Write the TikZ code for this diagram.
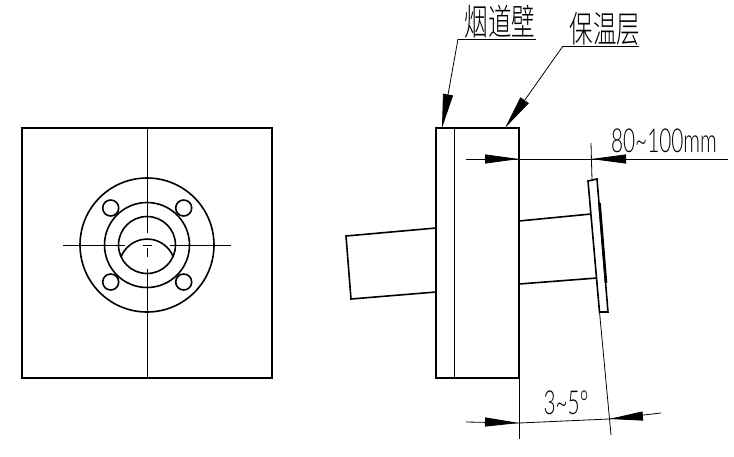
\documentclass[tikz,border=0pt]{standalone}
\usepackage{fontspec}
\setmainfont{Lato Light}
\newfontfamily\cjk{Noto Sans CJK SC Light}
\usetikzlibrary{arrows.meta}

\begin{document}
\begin{tikzpicture}[x=1pt, y=-1pt]
    \tikzstyle{thick line} = [line width=1.6pt]
    \tikzstyle{thin line} = [line width=0.8pt]
    \tikzstyle{label cn} = [font=\cjk\fontsize{25}{25}\selectfont, xscale=0.94, yscale=1.45, inner sep=0pt]
    \tikzstyle{label dim} = [font=\fontsize{33}{33}\selectfont, xscale=0.63, yscale=1.0, inner sep=0pt]
    \tikzstyle{leader} = [thin line, -{Triangle[length=34pt, width=10pt]}]
    \useasboundingbox (0,0) rectangle (734,456);

    % front view
    \draw [thick line] (22,128) rectangle (272,378);
    \draw [thin line] (147,128) -- (147,233);
    \draw [thin line] (147,248) -- (147,257);
    \draw [thin line] (147,269) -- (147,378);
    \draw [thin line] (63,245) -- (125,245);
    \draw [thin line] (170,245) -- (231,245);
    \draw [thin line] (143,245) -- (152,245);
    \draw [thick line] (147,245) circle (67);
    \draw [thick line] (147,245) circle (42.5);
    \draw [thick line] (147,245) circle (28.5);
    \foreach \x/\y in {110.7/208, 183.7/208, 110.7/282, 183.7/282}
        \draw [thick line] (\x,\y) circle (8);
    \draw [thick line] (121,257) arc [start angle=201, end angle=339, radius=28];

    % side view
    \draw [thick line] (436,128) rectangle (519,378);
    \draw [thin line] (454,128) -- (454,378);
    \draw [thick line] (436,228) -- (346,236) -- (351,299) -- (436,292);
    \draw [thick line] (519,221) -- (591,214);
    \draw [thick line] (519,284) -- (597,278);
    \draw [thick line] (588,181) -- (597,179) -- (608,312) -- (599.5,312) -- cycle;
    \draw [line width=2.6pt] (599.5,203) -- (606,283);

    % extension lines
    \draw [thin line] (591,143) -- (592,180);
    \draw [thin line] (599.5,312) -- (611,435);
    \draw [thin line] (519,378) -- (519,439);

    % leaders
    \coordinate (wallEnd) at (458,39);
    \coordinate (wallTip) at (442,128);
    \coordinate (insulEnd) at (563,46);
    \coordinate (insulTip) at (505,128);
    \draw [thin line] (wallEnd) -- (536,39);
    \draw [thin line] (insulEnd) -- (639,46);
    \draw [leader] (wallEnd) -- (wallTip);
    \draw [leader] (insulEnd) -- (insulTip);
    \node (wall) [label cn] at (500,22) {烟道壁};
    \node (insul) [label cn] at (605,29) {保温层};

    % dimensions
    \coordinate (widthL) at (519,159);
    \coordinate (widthR) at (591,159);
    \draw [thin line] (466,159) -- (728,159);
    \draw [thin line, -{Triangle[length=34pt, width=9pt]}] (485,159) -- (widthL);
    \draw [thin line, -{Triangle[length=35pt, width=9pt]}] (626,159) -- (widthR);
    \node (widthText) [label dim] at (664,141) {80\textasciitilde100mm};

    \coordinate (angleL) at (519,423);
    \coordinate (angleR) at (609,419);
    \draw [thin line] (466,422) -- (angleL) -- (angleR) -- (661,413);
    \draw [thin line, -{Triangle[length=34pt, width=9pt]}] (485,422) -- (angleL);
    \draw [thin line, -{Triangle[length=34pt, width=9pt]}] (643,416) -- (angleR);
    \node (angleText) [label dim] at (566,403) {3\textasciitilde5°};
\end{tikzpicture}
\end{document}
